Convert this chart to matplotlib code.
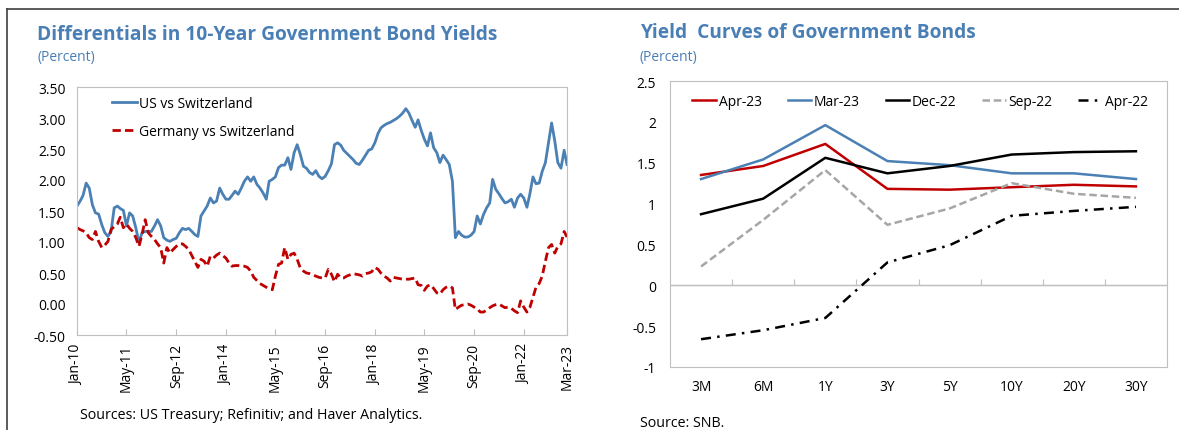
import numpy as np
import pandas as pd
import matplotlib
matplotlib.use('Agg')
from matplotlib import pyplot as plt
from matplotlib.lines import Line2D
from matplotlib.ticker import FormatStrFormatter, FuncFormatter

plt.rcParams['font.family'] = ['Open Sans', 'DejaVu Sans']

# Left panel: 10-year yield differentials, monthly Jan-2010 .. Mar-2023
dates = pd.date_range('2010-01-01', '2023-03-01', freq='MS')
us_ch = [
    1.58, 1.66, 1.75, 1.95, 1.87, 1.60, 1.47, 1.45, 1.28, 1.15,
    1.09, 1.17, 1.55, 1.58, 1.54, 1.51, 1.26, 1.47, 1.42, 1.23,
    0.99, 1.15, 1.17, 1.17, 1.17, 1.26, 1.36, 1.26, 1.07, 1.03,
    1.01, 1.04, 1.06, 1.15, 1.22, 1.20, 1.22, 1.17, 1.12, 1.09,
    1.42, 1.50, 1.58, 1.71, 1.63, 1.66, 1.87, 1.77, 1.69, 1.69,
    1.75, 1.82, 1.77, 1.87, 1.98, 2.05, 1.98, 2.05, 1.93, 1.87,
    1.79, 1.69, 1.98, 2.01, 2.05, 2.20, 2.24, 2.24, 2.36, 2.17,
    2.44, 2.57, 2.41, 2.22, 2.19, 2.12, 2.09, 2.15, 2.06, 2.02,
    2.06, 2.15, 2.26, 2.57, 2.60, 2.56, 2.48, 2.43, 2.38, 2.33,
    2.27, 2.25, 2.32, 2.40, 2.48, 2.50, 2.60, 2.75, 2.84, 2.88,
    2.91, 2.93, 2.96, 2.99, 3.03, 3.08, 3.15, 3.08, 2.96, 2.85,
    2.97, 2.80, 2.66, 2.55, 2.76, 2.52, 2.44, 2.28, 2.40, 2.33,
    2.25, 1.98, 1.07, 1.17, 1.11, 1.08, 1.08, 1.11, 1.17, 1.42,
    1.29, 1.44, 1.55, 1.63, 2.01, 1.85, 1.78, 1.70, 1.63, 1.65,
    1.69, 1.56, 1.71, 1.77, 1.71, 1.56, 1.77, 2.05, 1.94, 1.95,
    2.14, 2.28, 2.60, 2.92, 2.63, 2.28, 2.19, 2.48, 2.25,
]
de_ch = [
    1.23, 1.20, 1.18, 1.15, 1.07, 1.04, 1.17, 1.01, 0.91, 0.95,
    1.01, 1.20, 1.25, 1.29, 1.40, 1.23, 1.29, 1.22, 1.17, 1.07,
    0.93, 1.12, 1.36, 1.15, 1.09, 1.04, 0.97, 0.91, 0.66, 0.91,
    0.82, 0.88, 0.93, 0.97, 0.97, 0.93, 0.88, 0.78, 0.69, 0.59,
    0.72, 0.69, 0.61, 0.77, 0.74, 0.79, 0.82, 0.78, 0.74, 0.66,
    0.61, 0.62, 0.62, 0.61, 0.61, 0.59, 0.53, 0.43, 0.38, 0.33,
    0.30, 0.27, 0.25, 0.23, 0.45, 0.64, 0.66, 0.91, 0.72, 0.80,
    0.82, 0.72, 0.58, 0.53, 0.50, 0.49, 0.47, 0.45, 0.43, 0.42,
    0.42, 0.56, 0.48, 0.36, 0.48, 0.42, 0.42, 0.45, 0.47, 0.49,
    0.48, 0.47, 0.45, 0.49, 0.50, 0.52, 0.59, 0.56, 0.50, 0.45,
    0.42, 0.37, 0.43, 0.42, 0.41, 0.40, 0.40, 0.40, 0.41, 0.42,
    0.31, 0.30, 0.22, 0.29, 0.31, 0.25, 0.18, 0.16, 0.23, 0.27,
    0.29, 0.26, -0.09, -0.05, -0.02, -0.01, 0.00, -0.02, -0.05, -0.08,
    -0.13, -0.13, -0.10, -0.06, -0.03, -0.01, 0.00, -0.03, -0.06, -0.05,
    -0.07, -0.11, -0.14, 0.05, -0.05, -0.13, -0.06, 0.11, 0.27, 0.33,
    0.45, 0.69, 0.91, 0.96, 0.82, 0.93, 0.97, 1.17, 1.08,
]

# Right panel: Swiss government bond yield curves
maturities = ['3M', '6M', '1Y', '3Y', '5Y', '10Y', '20Y', '30Y']
apr23 = [1.35, 1.46, 1.73, 1.18, 1.17, 1.20, 1.23, 1.21]
mar23 = [1.30, 1.54, 1.96, 1.52, 1.47, 1.37, 1.37, 1.30]
dec22 = [0.87, 1.06, 1.56, 1.37, 1.46, 1.60, 1.63, 1.64]
sep22 = [0.23, 0.80, 1.41, 0.74, 0.94, 1.25, 1.12, 1.07]
apr22 = [-0.66, -0.55, -0.40, 0.28, 0.49, 0.85, 0.91, 0.96]

BLUE_TXT = '#4A7FB5'
BLUE = '#4A80B4'
RED = '#C00000'
GREY_AX = '#BFBFBF'
W, H = 1179, 431

fig = plt.figure(figsize=(W / 100, H / 100), dpi=100)

# frame lines of the page
fig.add_artist(Line2D([7 / W, 1], [1 - 10 / H, 1 - 10 / H], transform=fig.transFigure, color='#404040', lw=1.2))
fig.add_artist(Line2D([7 / W, 7 / W], [0, 1 - 10 / H], transform=fig.transFigure, color='#404040', lw=1.2))

# ---- left panel
ax1 = fig.add_axes([77 / W, (H - 336) / H, 490 / W, 248 / H])
ax1.plot(dates, us_ch, color=BLUE, lw=2.0, label='US vs Switzerland')
ax1.plot(dates, de_ch, color=RED, lw=2.0, dashes=(3, 1.5), label='Germany vs Switzerland')
ax1.set_xlim(dates[0], dates[-1])
ax1.set_ylim(-0.5, 3.5)
ax1.set_yticks(np.arange(-0.5, 3.51, 0.5))
ax1.yaxis.set_major_formatter(FormatStrFormatter('%.2f'))
xt = list(dates[::16]) + [dates[-1]]
ax1.set_xticks(xt)
ax1.set_xticklabels([d.strftime('%b-%y') for d in xt], rotation=90)
ax1.tick_params(axis='y', length=0, pad=8, labelsize=10)
ax1.tick_params(axis='x', direction='in', length=4, color=GREY_AX, pad=6, labelsize=10)
for s in ax1.spines.values():
    s.set_color(GREY_AX)
ax1.legend(loc='upper left', bbox_to_anchor=(0.045, 1.013), frameon=False, fontsize=10,
           handlelength=1.8, handletextpad=0.2, labelspacing=0.9)

fig.text(37 / W, 1 - 35 / H, 'Differentials in 10-Year Government Bond Yields', color=BLUE_TXT,
         fontsize=13.8, fontweight='bold', va='center')
fig.text(37 / W, 1 - 58 / H, '(Percent)', color=BLUE_TXT, fontsize=10, va='center')
fig.text(80 / W, 1 - 416 / H, 'Sources: US Treasury; Refinitiv; and Haver Analytics.', fontsize=10.3, va='center')

# ---- right panel
ax2 = fig.add_axes([670 / W, (H - 368) / H, 497 / W, 286 / H])
x = np.arange(len(maturities))
ax2.plot(x, apr23, color=RED, lw=1.8, label='Apr-23')
ax2.plot(x, mar23, color=BLUE, lw=1.8, label='Mar-23')
ax2.plot(x, dec22, color='black', lw=1.8, label='Dec-22')
ax2.plot(x, sep22, color='#A6A6A6', lw=1.8, dashes=(3, 1.5), label='Sep-22')
ax2.plot(x, apr22, color='black', lw=1.8, dashes=(4, 2.5, 1, 2.5), label='Apr-22')
ax2.set_xlim(-0.5, len(maturities) - 0.5)
ax2.set_ylim(-1, 2.5)
ax2.set_yticks(np.arange(-1, 2.51, 0.5))
ax2.yaxis.set_major_formatter(FuncFormatter(lambda v, p: '{:g}'.format(v)))
ax2.set_xticks(x)
ax2.set_xticklabels(maturities)
ax2.tick_params(axis='y', length=0, pad=10, labelsize=10)
ax2.tick_params(axis='x', length=0, pad=9, labelsize=10)
for s in ax2.spines.values():
    s.set_color(GREY_AX)
ax2.axhline(0, color=GREY_AX, lw=1.0, zorder=1)
zero_ax = ax2.secondary_xaxis((0 - (-1)) / 3.5)
zero_ax.set_xticks(x[:-1] + 0.5)
zero_ax.set_xticklabels([])
zero_ax.tick_params(direction='in', length=4, color=GREY_AX)
for s in zero_ax.spines.values():
    s.set_color(GREY_AX)
ax2.legend(loc='upper left', bbox_to_anchor=(0.02, 1.0), ncol=5, frameon=False, fontsize=10,
           handlelength=1.7, handletextpad=0.2, columnspacing=1.85)

fig.text(640 / W, 1 - 33 / H, 'Yield  Curves of Government Bonds', color=BLUE_TXT,
         fontsize=13.8, fontweight='bold', va='center')
fig.text(640 / W, 1 - 58 / H, '(Percent)', color=BLUE_TXT, fontsize=10, va='center')
fig.text(640 / W, 1 - 424 / H, 'Source: SNB.', fontsize=10.3, va='center')

fig.savefig('out.png', dpi=100)
